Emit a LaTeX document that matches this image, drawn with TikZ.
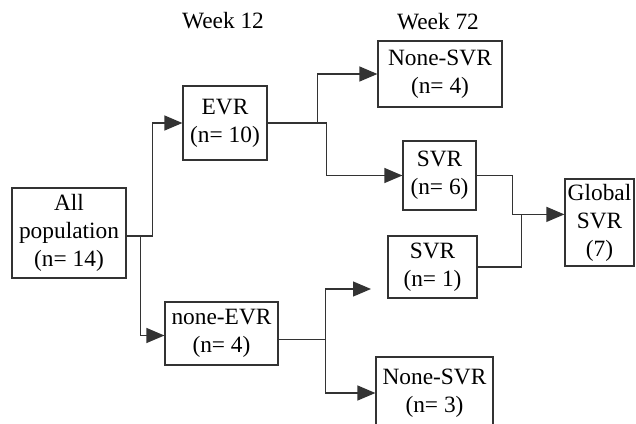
\documentclass[tikz,border=0pt]{standalone}
\usepackage{fontspec}
\setmainfont{Liberation Serif}
\usetikzlibrary{calc, arrows.meta}

\tikzset{
    box/.style = {draw = black!80, line width = 0.25mm, align = center, inner sep = 0pt},
    link/.style = {black!80, line width = 0.25mm},
    arrowlink/.style = {link, -{Triangle[length = 3.6mm, width = 3mm]}}
}

\begin{document}
\begin{tikzpicture}[x = 0.02cm, y = -0.02cm, font = \fontsize{13.3}{16}\selectfont]
            \useasboundingbox (0, 0) rectangle (636, 423);
            
            \node[anchor = base] (wk12) at (223, 28) {Week 12};
            \node[anchor = base] (wk72) at (438, 29) {Week 72};
            
            \node[box, minimum width = 2.28cm, minimum height = 1.8cm] (all) at (69, 233) {All\\population\\(n= 14)};
            \node[box, minimum width = 1.68cm, minimum height = 1.48cm] (evr) at (225, 123) {EVR\\(n= 10)};
            \node[box, minimum width = 2.26cm, minimum height = 1.26cm] (nevr) at (221.5, 333.5) {none-EVR\\(n= 4)};
            
            \node[box, minimum width = 2.48cm, minimum height = 1.32cm] (nsvr1) at (440, 74) {None-SVR\\(n= 4)};
            \node[box, minimum width = 1.46cm, minimum height = 1.38cm] (svr6) at (439.5, 175.5) {SVR\\(n= 6)};
            \node[box, minimum width = 1.78cm, minimum height = 1.24cm] (svr1) at (432.5, 267) {SVR\\(n= 1)};
            \node[box, minimum width = 2.34cm, minimum height = 1.44cm] (nsvr2) at (434.5, 393) {None-SVR\\(n= 3)};
            \node[box, minimum width = 1.38cm, minimum height = 1.74cm] (glob) at (599.5, 222.5) {Global\\SVR\\(7)};
            
            \coordinate (tosvr1) at (371, 289);
            \coordinate (allout) at ($(all.east) + (0, 3)$);
            \coordinate (nevrout) at ($(nevr.east) + (0, 6)$);
            
            % week 12
            \draw[arrowlink] (allout) -- ++(26, 0) |- (evr.west);
            \draw[arrowlink] (allout) -- ++(14, 0) |- ($(nevr.west) + (0, 2)$);
            
            % week 72
            \draw[arrowlink] (evr.east) -- ++(50, 0) |- (nsvr1.west);
            \draw[arrowlink] (evr.east) -- ++(59, 0) |- (svr6.west);
            \draw[arrowlink] (nevrout) -- ++(47, 0) |- (tosvr1);
            \draw[arrowlink] (nevrout) -- ++(47, 0) |- (nsvr2.west);
            
            % global
            \draw[arrowlink] (svr6.east) -- ++(36, 0) |- (glob.167);
            \draw[link] (svr1.east) -- ++(44, 0) -- ++(0, -53);
            
        \end{tikzpicture}
\end{document}
